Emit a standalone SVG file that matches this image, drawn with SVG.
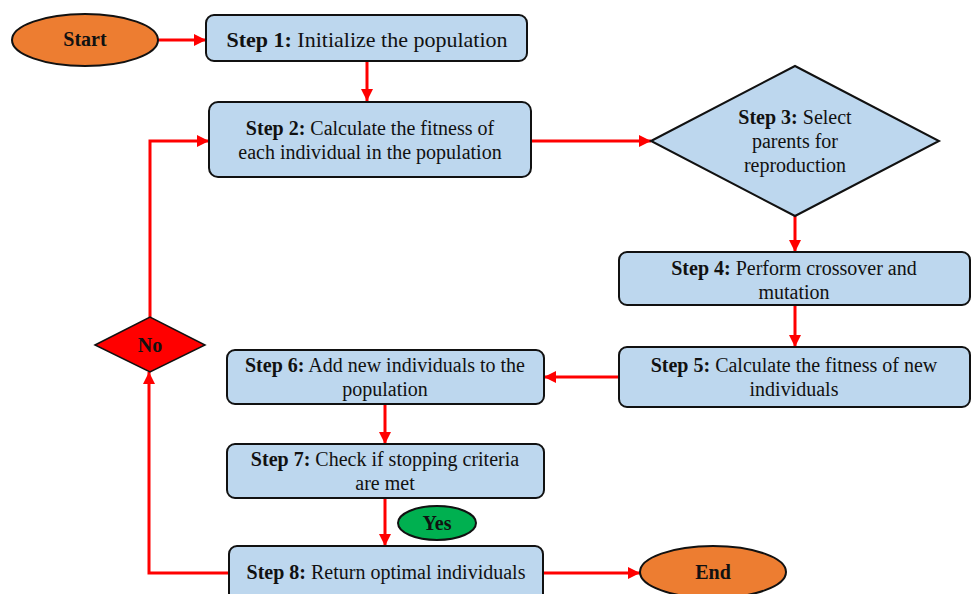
<svg xmlns="http://www.w3.org/2000/svg" width="973" height="594" viewBox="0 0 973 594">
<style>
.box{fill:#BDD7EE;stroke:#111;stroke-width:2}
.term{fill:#ED7D31;stroke:#111;stroke-width:2}
.yes{fill:#00B050;stroke:#111;stroke-width:2}
.no{fill:#FF0000;stroke:#111;stroke-width:1.5}
.t{font-family:"Liberation Serif","Times New Roman",serif;font-size:20px;fill:#111;text-anchor:middle}
.b{font-weight:bold}
.c{fill:none;stroke:#FF0000;stroke-width:3}
</style>
<defs>
<marker id="ah" viewBox="0 0 10 10" refX="10" refY="5" markerWidth="4" markerHeight="4" markerUnits="strokeWidth" orient="auto">
<path d="M0,0 L10,5 L0,10 Z" fill="#FF0000"/>
</marker>
</defs>
<g id="connectors">
<path class="c" d="M158,40 H206" marker-end="url(#ah)"/>
<path class="c" d="M367,61 V101" marker-end="url(#ah)"/>
<path class="c" d="M531,141 H651" marker-end="url(#ah)"/>
<path class="c" d="M795,216 V252" marker-end="url(#ah)"/>
<path class="c" d="M795,305 V347" marker-end="url(#ah)"/>
<path class="c" d="M619,377 H544" marker-end="url(#ah)"/>
<path class="c" d="M385,404 V444" marker-end="url(#ah)"/>
<path class="c" d="M385,498 V546" marker-end="url(#ah)"/>
<path class="c" d="M543,573 H640" marker-end="url(#ah)"/>
<path class="c" d="M229,573 H149 V372" marker-end="url(#ah)"/>
<path class="c" d="M150,317 V141 H209" marker-end="url(#ah)"/>
</g>
<g id="start">
<ellipse class="term" cx="85" cy="40" rx="73" ry="26"/>
<text class="t b" x="85" y="46">Start</text>
</g>
<g id="step1">
<rect class="box" x="206" y="15" width="321" height="46" rx="8"/>
<text class="t" x="367" y="47" style="font-size:22px"><tspan class="b">Step 1:</tspan> Initialize the population</text>
</g>
<g id="step2">
<rect class="box" x="209" y="102" width="322" height="75" rx="9"/>
<text class="t" x="370" y="135"><tspan class="b">Step 2:</tspan> Calculate the fitness of</text>
<text class="t" x="370" y="159">each individual in the population</text>
</g>
<g id="step3">
<polygon class="box" points="651,141 795,66 939,141 795,216"/>
<text class="t" x="795" y="124"><tspan class="b">Step 3:</tspan> Select</text>
<text class="t" x="795" y="148">parents for</text>
<text class="t" x="795" y="172">reproduction</text>
</g>
<g id="step4">
<rect class="box" x="619" y="252" width="351" height="53" rx="8"/>
<text class="t" x="794" y="275"><tspan class="b">Step 4:</tspan> Perform crossover and</text>
<text class="t" x="794" y="299">mutation</text>
</g>
<g id="step5">
<rect class="box" x="619" y="347" width="351" height="60" rx="8"/>
<text class="t" x="794" y="372"><tspan class="b">Step 5:</tspan> Calculate the fitness of new</text>
<text class="t" x="794" y="396">individuals</text>
</g>
<g id="step6">
<rect class="box" x="227" y="350" width="317" height="54" rx="8"/>
<text class="t" x="385" y="372"><tspan class="b">Step 6:</tspan> Add new individuals to the</text>
<text class="t" x="385" y="396">population</text>
</g>
<g id="step7">
<rect class="box" x="227" y="444" width="317" height="54" rx="8"/>
<text class="t" x="385" y="466"><tspan class="b">Step 7:</tspan> Check if stopping criteria</text>
<text class="t" x="385" y="490">are met</text>
</g>
<g id="yes">
<ellipse class="yes" cx="437" cy="523" rx="39" ry="17"/>
<text class="t b" x="437" y="530">Yes</text>
</g>
<g id="step8">
<rect class="box" x="229" y="546" width="314" height="56" rx="8"/>
<text class="t" x="386" y="579"><tspan class="b">Step 8:</tspan> Return optimal individuals</text>
</g>
<g id="no">
<polygon class="no" points="95,345 150,317 205,345 150,372"/>
<text class="t b" x="150" y="352">No</text>
</g>
<g id="end">
<ellipse class="term" cx="713" cy="572" rx="73" ry="26"/>
<text class="t b" x="713" y="579">End</text>
</g>
</svg>
